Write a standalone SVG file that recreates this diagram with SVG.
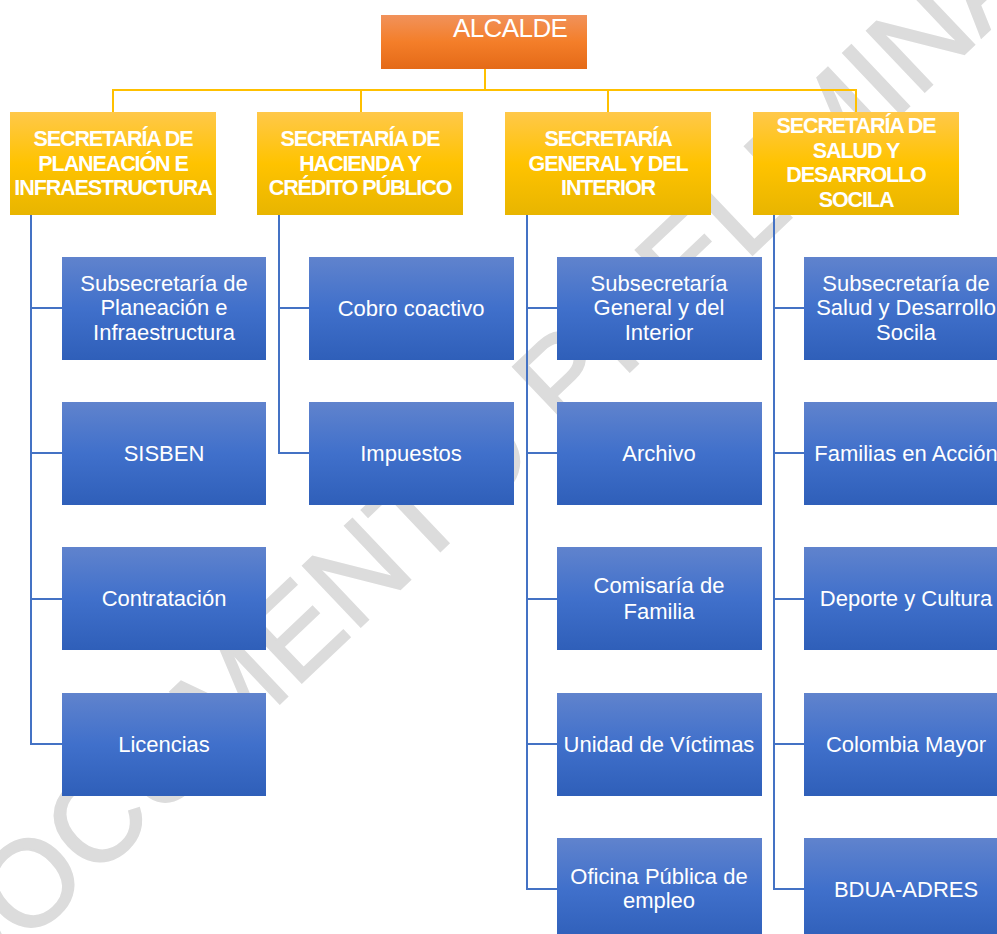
<svg xmlns="http://www.w3.org/2000/svg" width="997" height="934" viewBox="0 0 997 934">
<defs>
<linearGradient id="gOrange" x1="0" y1="0" x2="0" y2="1">
<stop offset="0" stop-color="#F1925B"/>
<stop offset="0.5" stop-color="#F47E29"/>
<stop offset="1" stop-color="#E46A18"/>
</linearGradient>
<linearGradient id="gYellow" x1="0" y1="0" x2="0" y2="1">
<stop offset="0" stop-color="#FFC84A"/>
<stop offset="0.5" stop-color="#FFC300"/>
<stop offset="1" stop-color="#E8B500"/>
</linearGradient>
<linearGradient id="gBlue" x1="0" y1="0" x2="0" y2="1">
<stop offset="0" stop-color="#6083CD"/>
<stop offset="0.5" stop-color="#4070CB"/>
<stop offset="1" stop-color="#2F5FB9"/>
</linearGradient>
</defs>
<style>
.wm{font-family:"Liberation Sans",Arial,sans-serif;font-size:122px;fill:#DCDCDC;stroke:#DCDCDC;stroke-width:2;}
.top{fill:url(#gOrange);}
.sec{fill:url(#gYellow);}
.sub{fill:url(#gBlue);}
.tt{font-family:"Liberation Sans",Arial,sans-serif;font-size:26px;fill:#fff;letter-spacing:-0.6px;}
.st{font-family:"Liberation Sans",Arial,sans-serif;font-size:21.5px;font-weight:bold;fill:#fff;text-anchor:middle;letter-spacing:-1.1px;}
.bt{font-family:"Liberation Sans",Arial,sans-serif;font-size:22px;fill:#fff;text-anchor:middle;}
.cy{fill:none;stroke:#FFC000;stroke-width:2;}
.cb{fill:none;stroke:#4472C4;stroke-width:2;}
</style>
<rect width="997" height="934" fill="#fff"/>
<g id="watermark" transform="translate(502,432) rotate(-43.5)">
<text class="wm" x="0" y="44" text-anchor="middle">DOCUMENTO PRELIMINAR</text>
</g>
<g id="connectors">
<path class="cy" d="M485,69 V90 M113,112 V90 H856 V112 M361,90 V112 M608,90 V112"/>
<path class="cb" d="M31,215 V744 H62 M31,308 H62 M31,453 H62 M31,599 H62"/>
<path class="cb" d="M279,215 V453 H309 M279,308 H309"/>
<path class="cb" d="M527,215 V889 H557 M527,308 H557 M527,453 H557 M527,599 H557 M527,744 H557"/>
<path class="cb" d="M774,215 V889 H804 M774,308 H804 M774,453 H804 M774,599 H804 M774,744 H804"/>
</g>
<g id="alcalde"><rect class="top" x="381" y="15" width="206" height="54"/><text class="tt" x="453" y="37">ALCALDE</text></g>
<g id="sec-planeacion"><rect class="sec" x="10" y="112" width="206" height="103"/>
<text class="st" x="113" y="146">SECRETARÍA DE</text><text class="st" x="113" y="171">PLANEACIÓN E</text><text class="st" x="113" y="195">INFRAESTRUCTURA</text></g>
<g id="sec-hacienda"><rect class="sec" x="257" y="112" width="206" height="103"/>
<text class="st" x="360" y="146">SECRETARÍA DE</text><text class="st" x="360" y="171">HACIENDA Y</text><text class="st" x="360" y="195">CRÉDITO PÚBLICO</text></g>
<g id="sec-general"><rect class="sec" x="505" y="112" width="206" height="103"/>
<text class="st" x="608" y="146">SECRETARÍA</text><text class="st" x="608" y="171">GENERAL Y DEL</text><text class="st" x="608" y="195">INTERIOR</text></g>
<g id="sec-salud"><rect class="sec" x="753" y="112" width="206" height="103"/>
<text class="st" x="856" y="133">SECRETARÍA DE</text><text class="st" x="856" y="158">SALUD Y</text><text class="st" x="856" y="182">DESARROLLO</text><text class="st" x="856" y="207">SOCILA</text></g>

<g id="sub-planeacion"><rect class="sub" x="62" y="257" width="204" height="103"/>
<text class="bt" x="164" y="291">Subsecretaría de</text><text class="bt" x="164" y="315">Planeación e</text><text class="bt" x="164" y="340">Infraestructura</text></g>
<g id="sisben"><rect class="sub" x="62" y="402" width="204" height="103"/><text class="bt" x="164" y="461">SISBEN</text></g>
<g id="contratacion"><rect class="sub" x="62" y="547" width="204" height="103"/><text class="bt" x="164" y="606">Contratación</text></g>
<g id="licencias"><rect class="sub" x="62" y="693" width="204" height="103"/><text class="bt" x="164" y="752">Licencias</text></g>

<g id="cobro"><rect class="sub" x="309" y="257" width="205" height="103"/><text class="bt" x="411" y="316">Cobro coactivo</text></g>
<g id="impuestos"><rect class="sub" x="309" y="402" width="205" height="103"/><text class="bt" x="411" y="461">Impuestos</text></g>

<g id="sub-general"><rect class="sub" x="557" y="257" width="205" height="103"/>
<text class="bt" x="659" y="291">Subsecretaría</text><text class="bt" x="659" y="315">General y del</text><text class="bt" x="659" y="340">Interior</text></g>
<g id="archivo"><rect class="sub" x="557" y="402" width="205" height="103"/><text class="bt" x="659" y="461">Archivo</text></g>
<g id="comisaria"><rect class="sub" x="557" y="547" width="205" height="103"/>
<text class="bt" x="659" y="593">Comisaría de</text><text class="bt" x="659" y="619">Familia</text></g>
<g id="victimas"><rect class="sub" x="557" y="693" width="205" height="103"/><text class="bt" x="659" y="752">Unidad de Víctimas</text></g>
<g id="empleo"><rect class="sub" x="557" y="838" width="205" height="103"/>
<text class="bt" x="659" y="884">Oficina Pública de</text><text class="bt" x="659" y="908">empleo</text></g>

<g id="sub-salud"><rect class="sub" x="804" y="257" width="205" height="103"/>
<text class="bt" x="906" y="291">Subsecretaría de</text><text class="bt" x="906" y="315">Salud y Desarrollo</text><text class="bt" x="906" y="340">Socila</text></g>
<g id="familias"><rect class="sub" x="804" y="402" width="205" height="103"/><text class="bt" x="906" y="461">Familias en Acción</text></g>
<g id="deporte"><rect class="sub" x="804" y="547" width="205" height="103"/><text class="bt" x="906" y="606">Deporte y Cultura</text></g>
<g id="colombia"><rect class="sub" x="804" y="693" width="205" height="103"/><text class="bt" x="906" y="752">Colombia Mayor</text></g>
<g id="bdua"><rect class="sub" x="804" y="838" width="205" height="103"/><text class="bt" x="906" y="897">BDUA-ADRES</text></g>
</svg>
